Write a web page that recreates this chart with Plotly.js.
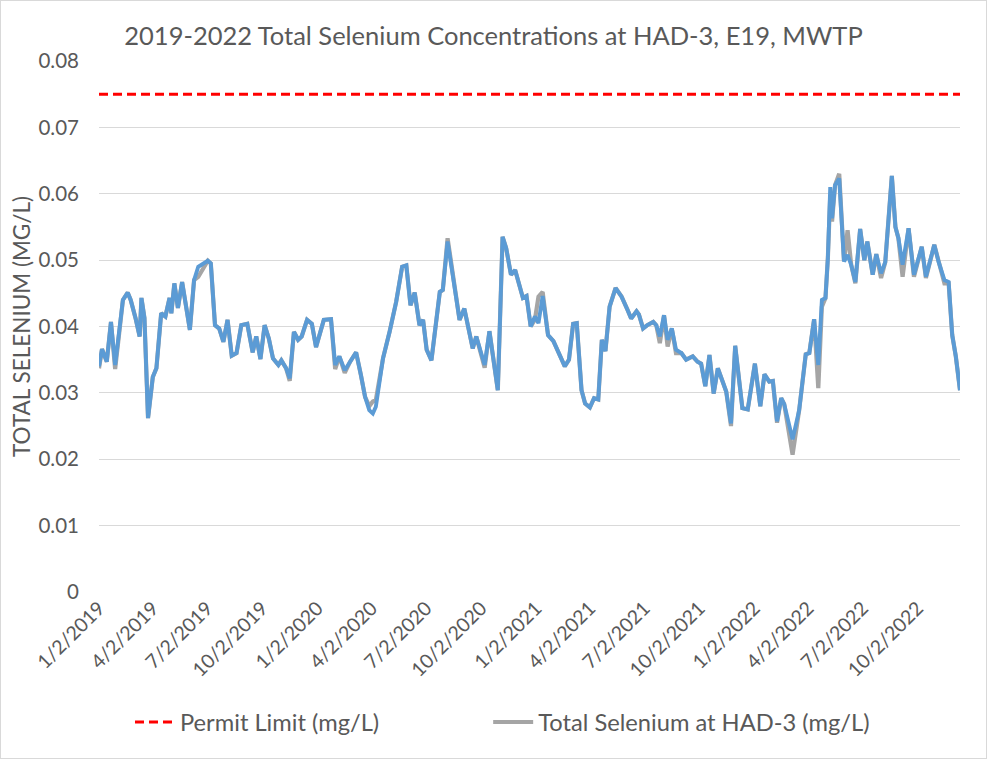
<!DOCTYPE html>
<html>
<head>
<meta charset="utf-8">
<script src="https://cdn.plot.ly/plotly-3.0.1.min.js"></script>
<style>
html,body{margin:0;padding:0;background:#fff;}
#chart{width:987px;height:759px;box-sizing:border-box;border:1px solid #d9d9d9;}
</style>
</head>
<body>
<div id="chart"></div>
<script>
const sampleDates = [
"2019-01-02","2019-01-07","2019-01-15","2019-01-22","2019-01-29","2019-02-11","2019-02-19","2019-02-24","2019-03-04","2019-03-11",
"2019-03-14","2019-03-19","2019-03-25","2019-04-02","2019-04-08","2019-04-16","2019-04-23","2019-04-30","2019-05-03","2019-05-08",
"2019-05-14","2019-05-21","2019-06-03","2019-06-10","2019-06-17","2019-07-03","2019-07-08","2019-07-15","2019-07-22","2019-07-29",
"2019-08-05","2019-08-12","2019-08-20","2019-08-28","2019-09-07","2019-09-16","2019-09-22","2019-09-29","2019-10-06","2019-10-13",
"2019-10-20","2019-10-29","2019-11-03","2019-11-11","2019-11-17","2019-11-24","2019-12-01","2019-12-07","2019-12-16","2019-12-24",
"2019-12-31","2020-01-13","2020-01-25","2020-02-01","2020-02-08","2020-02-17","2020-02-26","2020-03-07","2020-03-15","2020-03-22",
"2020-03-29","2020-04-04","2020-04-09","2020-04-21","2020-05-02","2020-05-13","2020-05-23","2020-05-30","2020-06-06","2020-06-13",
"2020-06-21","2020-06-27","2020-07-03","2020-07-11","2020-07-25","2020-07-30","2020-08-07","2020-08-27","2020-09-04","2020-09-18",
"2020-09-24","2020-10-08","2020-10-16","2020-10-30","2020-11-07","2020-11-13","2020-11-21","2020-11-28","2020-12-11","2020-12-17",
"2020-12-24","2020-12-31","2021-01-06","2021-01-13","2021-01-22","2021-01-31","2021-02-19","2021-02-26","2021-03-05","2021-03-11",
"2021-03-19","2021-03-25","2021-04-02","2021-04-09","2021-04-16","2021-04-22","2021-04-28","2021-05-05","2021-05-15","2021-05-25",
"2021-06-04","2021-06-10","2021-06-19","2021-06-23","2021-06-30","2021-07-07","2021-07-17","2021-07-22","2021-07-28","2021-08-04",
"2021-08-10","2021-08-17","2021-08-24","2021-09-02","2021-09-10","2021-09-21","2021-09-29","2021-10-05","2021-10-12","2021-10-19",
"2021-10-26","2021-11-02","2021-11-08","2021-11-16","2021-11-24","2021-12-01","2021-12-13","2021-12-22","2022-01-03","2022-01-12",
"2022-01-19","2022-01-27","2022-02-02","2022-02-09","2022-02-16","2022-02-21","2022-03-07","2022-03-18","2022-03-29","2022-04-04",
"2022-04-12","2022-04-19","2022-04-25","2022-05-01","2022-05-05","2022-05-09","2022-05-12","2022-05-17","2022-05-24","2022-06-01",
"2022-06-07","2022-06-13","2022-06-20","2022-06-28","2022-07-05","2022-07-10","2022-07-19","2022-07-25","2022-08-02","2022-08-09",
"2022-08-20","2022-08-26","2022-08-31","2022-09-07","2022-09-17","2022-09-26","2022-10-09","2022-10-16","2022-10-30","2022-11-06",
"2022-11-16","2022-11-23","2022-11-29","2022-12-05","2022-12-12"
];

// Total Selenium at HAD-3 (mg/L) - gray
const had3Values = [
0.0337,0.0366,0.0347,0.0407,0.0336,0.0440,0.0451,0.0440,0.0413,0.0385,
0.0443,0.0413,0.0262,0.0324,0.0337,0.0420,0.0415,0.0443,0.0420,0.0465,
0.0428,0.0467,0.0395,0.0470,0.0475,0.0499,0.0495,0.0402,0.0397,0.0377,
0.0410,0.0356,0.0360,0.0402,0.0404,0.0361,0.0385,0.0351,0.0402,0.0382,
0.0352,0.0342,0.0349,0.0337,0.0318,0.0392,0.0380,0.0385,0.0410,0.0404,
0.0369,0.0410,0.0411,0.0336,0.0355,0.0330,0.0347,0.0361,0.0327,0.0294,
0.0280,0.0287,0.0289,0.0352,0.0392,0.0437,0.0490,0.0492,0.0432,0.0451,
0.0402,0.0410,0.0365,0.0349,0.0452,0.0455,0.0533,0.0410,0.0427,0.0367,
0.0385,0.0338,0.0393,0.0304,0.0535,0.0518,0.0478,0.0485,0.0443,0.0446,
0.0400,0.0410,0.0445,0.0452,0.0387,0.0378,0.0340,0.0350,0.0404,0.0405,
0.0304,0.0284,0.0278,0.0292,0.0290,0.0380,0.0363,0.0430,0.0458,0.0445,
0.0425,0.0412,0.0423,0.0418,0.0397,0.0402,0.0407,0.0402,0.0375,0.0417,
0.0370,0.0397,0.0360,0.0360,0.0350,0.0355,0.0347,0.0344,0.0310,0.0357,
0.0299,0.0337,0.0322,0.0302,0.0250,0.0371,0.0277,0.0275,0.0344,0.0280,
0.0328,0.0317,0.0318,0.0255,0.0292,0.0283,0.0207,0.0274,0.0358,0.0360,
0.0411,0.0307,0.0430,0.0443,0.0503,0.0597,0.0558,0.0613,0.0630,0.0498,
0.0545,0.0493,0.0465,0.0547,0.0500,0.0528,0.0478,0.0509,0.0473,0.0497,
0.0627,0.0550,0.0533,0.0475,0.0548,0.0475,0.0520,0.0473,0.0523,0.0498,
0.0465,0.0465,0.0387,0.0355,0.0304
];

// second selenium series (blue)
const blueValues = [
0.0340,0.0366,0.0347,0.0407,0.0342,0.0440,0.0451,0.0440,0.0413,0.0385,
0.0443,0.0413,0.0262,0.0324,0.0337,0.0420,0.0415,0.0443,0.0420,0.0465,
0.0428,0.0467,0.0395,0.0470,0.0490,0.0499,0.0495,0.0402,0.0397,0.0377,
0.0410,0.0356,0.0360,0.0402,0.0404,0.0361,0.0385,0.0351,0.0402,0.0382,
0.0352,0.0342,0.0349,0.0337,0.0322,0.0392,0.0380,0.0385,0.0410,0.0404,
0.0369,0.0410,0.0411,0.0342,0.0355,0.0334,0.0347,0.0361,0.0327,0.0294,
0.0274,0.0269,0.0279,0.0352,0.0392,0.0437,0.0490,0.0492,0.0432,0.0451,
0.0402,0.0410,0.0365,0.0349,0.0452,0.0455,0.0528,0.0410,0.0427,0.0367,
0.0385,0.0342,0.0393,0.0304,0.0535,0.0518,0.0478,0.0485,0.0443,0.0446,
0.0400,0.0415,0.0405,0.0446,0.0387,0.0378,0.0340,0.0350,0.0404,0.0405,
0.0304,0.0284,0.0278,0.0292,0.0290,0.0380,0.0363,0.0430,0.0458,0.0445,
0.0425,0.0412,0.0423,0.0418,0.0397,0.0402,0.0407,0.0402,0.0385,0.0417,
0.0380,0.0397,0.0365,0.0360,0.0350,0.0355,0.0347,0.0344,0.0310,0.0357,
0.0299,0.0337,0.0322,0.0302,0.0254,0.0371,0.0277,0.0275,0.0344,0.0280,
0.0328,0.0317,0.0318,0.0257,0.0292,0.0283,0.0230,0.0274,0.0358,0.0360,
0.0411,0.0342,0.0440,0.0443,0.0503,0.0610,0.0563,0.0613,0.0623,0.0498,
0.0508,0.0493,0.0467,0.0547,0.0500,0.0528,0.0478,0.0509,0.0480,0.0497,
0.0627,0.0550,0.0533,0.0493,0.0548,0.0478,0.0520,0.0475,0.0523,0.0498,
0.0470,0.0467,0.0387,0.0355,0.0304
];

const permitDates = ["2019-01-02","2022-12-12"];
const permitValues = [0.075, 0.075];

const tickDates = ["2019-01-02","2019-04-02","2019-07-02","2019-10-02","2020-01-02","2020-04-02","2020-07-02","2020-10-02",
"2021-01-02","2021-04-02","2021-07-02","2021-10-02","2022-01-02","2022-04-02","2022-07-02","2022-10-02"];
const tickLabels = ["1/2/2019","4/2/2019","7/2/2019","10/2/2019","1/2/2020","4/2/2020","7/2/2020","10/2/2020",
"1/2/2021","4/2/2021","7/2/2021","10/2/2021","1/2/2022","4/2/2022","7/2/2022","10/2/2022"];
const yTicks = [0,0.01,0.02,0.03,0.04,0.05,0.06,0.07,0.08];
const yTickLabels = ["0","0.01","0.02","0.03","0.04","0.05","0.06","0.07","0.08"];

const FONT = "Lato, 'Open Sans', sans-serif";
const TXT = "#595959";

const traces = [
  {x: permitDates, y: permitValues, type: "scatter", mode: "lines", name: "Permit Limit (mg/L)",
   legend: "legend", line: {color: "#ff0000", width: 3, dash: "9px,5px"}},
  {x: sampleDates, y: had3Values, type: "scatter", mode: "lines", name: "Total Selenium at HAD-3 (mg/L)",
   legend: "legend2", line: {color: "#a5a5a5", width: 4.2}},
  {x: sampleDates, y: blueValues, type: "scatter", mode: "lines", name: "Total Selenium (mg/L)",
   showlegend: false, line: {color: "#5b9bd5", width: 3.9}}
];

const legendFont = {size: 23.7, color: TXT, family: FONT};

const layout = {
  width: 985, height: 757,
  margin: {l: 98, r: 26, t: 60, b: 166},
  paper_bgcolor: "#fff", plot_bgcolor: "#fff",
  font: {family: FONT, color: TXT},
  title: {text: "2019-2022 Total Selenium Concentrations at HAD-3, E19, MWTP",
          font: {family: FONT, size: 25.5, color: TXT}, x: 0.5, xanchor: "center", y: 0.954, yanchor: "middle"},
  xaxis: {type: "date", range: ["2019-01-02","2022-12-12"], tickvals: tickDates, ticktext: tickLabels,
          tickangle: -45, tickfont: {size: 19.5, color: TXT, family: FONT}, showgrid: false,
          showline: false, zeroline: false, ticks: "", ticklen: 0},
  yaxis: {range: [0, 0.08], tickvals: yTicks, ticktext: yTickLabels, showgrid: true, gridcolor: "#d9d9d9", gridwidth: 1,
          zeroline: false, showline: false, ticks: "", tickfont: {size: 20.5, color: TXT, family: FONT}, ticklabelstandoff: 19,
          title: {text: "TOTAL SELENIUM (MG/L)", font: {size: 22.5, color: TXT, family: FONT}, standoff: 1}},
  legend: {orientation: "h", x: 0.036, xanchor: "left", y: -0.245, yanchor: "middle", itemwidth: 40,
           font: legendFont, bgcolor: "rgba(0,0,0,0)"},
  legend2: {orientation: "h", x: 0.452, xanchor: "left", y: -0.245, yanchor: "middle", itemwidth: 40,
           font: legendFont, bgcolor: "rgba(0,0,0,0)"},
  showlegend: true
};

Plotly.newPlot("chart", traces, layout, {displayModeBar: false, staticPlot: true});
</script>
</body>
</html>
